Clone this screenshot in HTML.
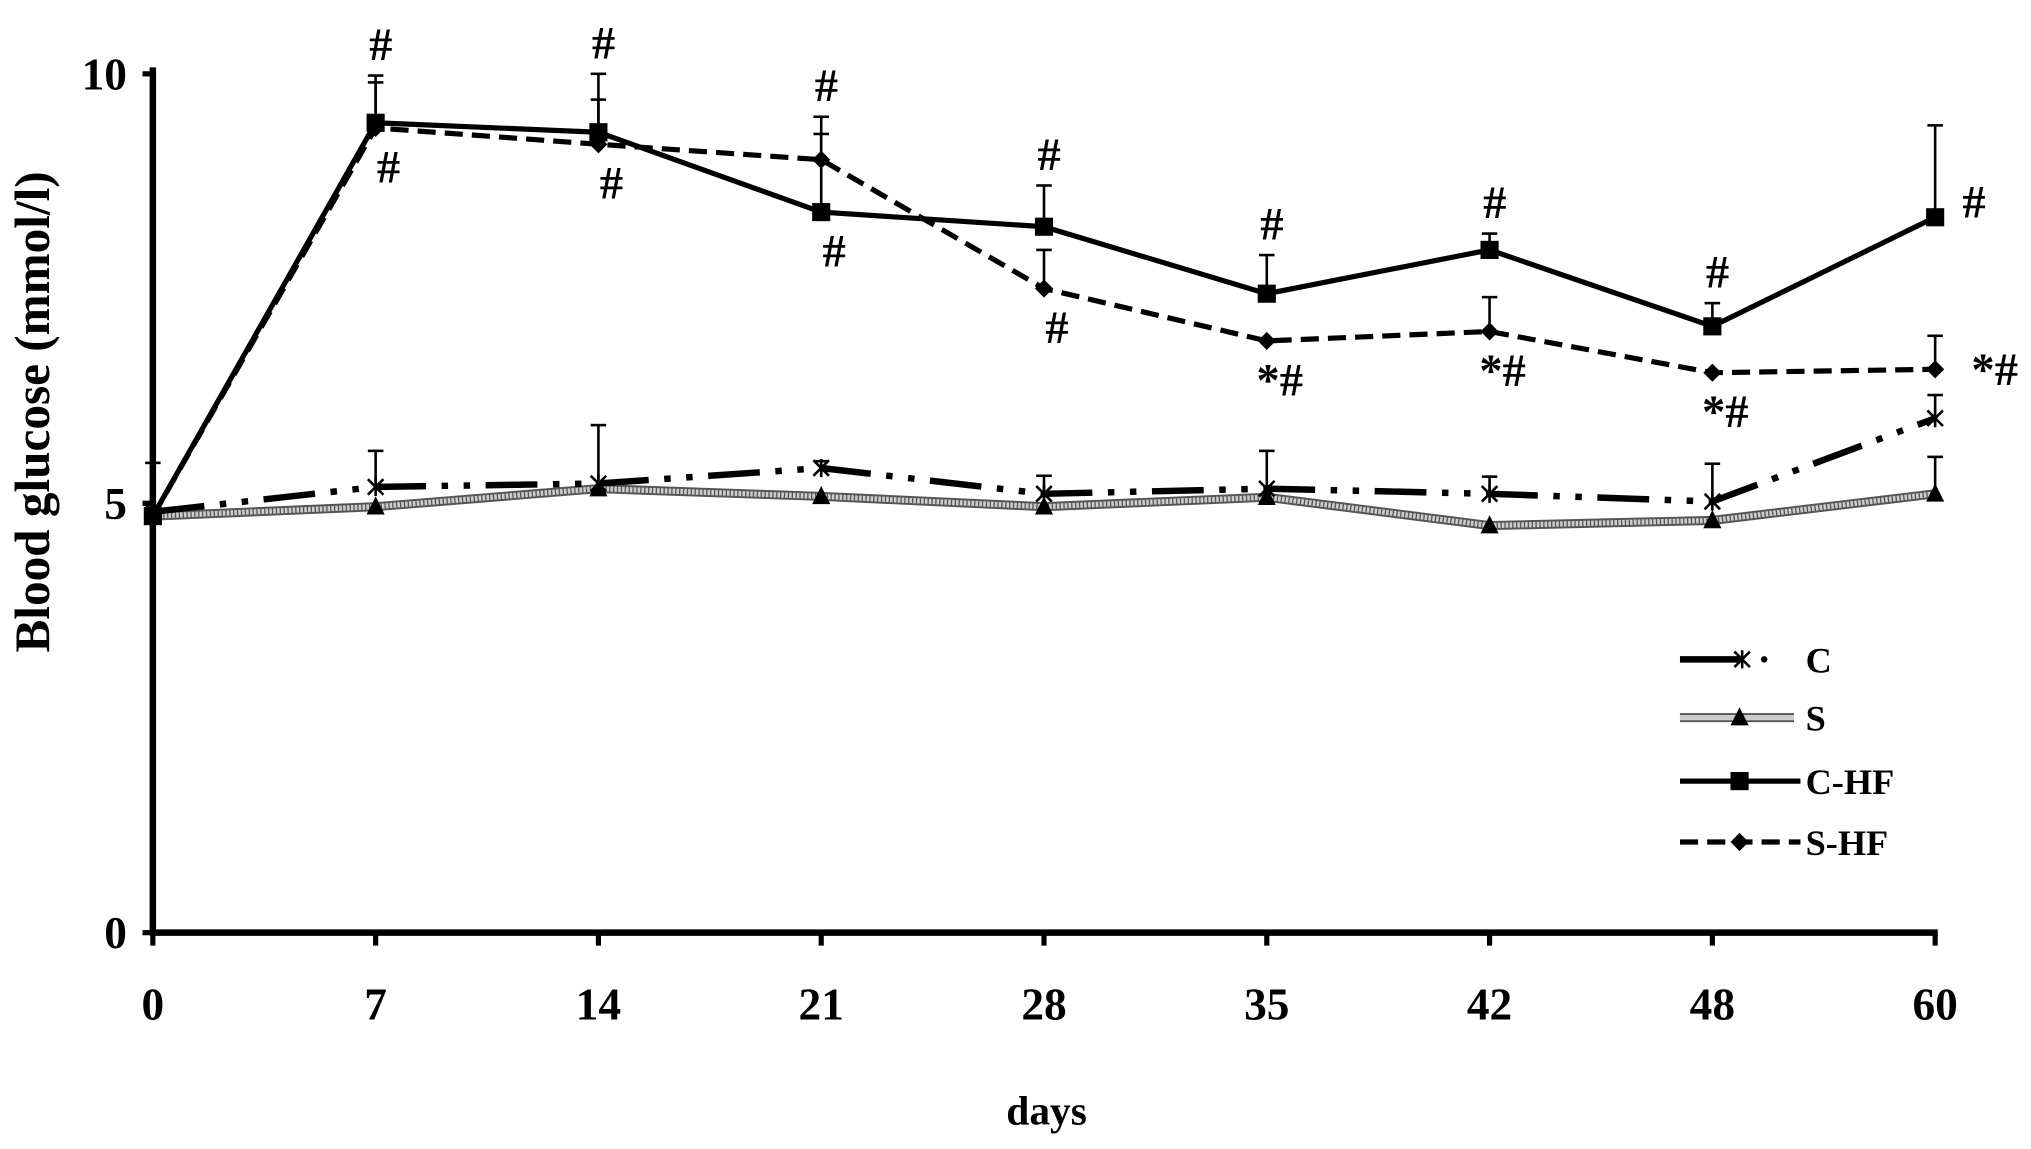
<!DOCTYPE html>
<html><head><meta charset="utf-8"><style>
html,body{margin:0;padding:0;background:#fff;}
svg{display:block;}
text{font-family:"Liberation Serif",serif;font-weight:bold;fill:#000;}
</style></head><body>
<svg id="chart" width="2031" height="1149" viewBox="0 0 1568 887" preserveAspectRatio="none">
<g id="axes"></g><g id="series"></g><g id="annot"></g><g id="legend"></g>
<text transform="translate(38,318) rotate(-90)" text-anchor="middle" font-size="38">Blood glucose (mmol/l)</text>
<text x="808" y="868" text-anchor="middle" font-size="32">days</text>
</svg>
<script>
const categories=["0","7","14","21","28","35","42","48","60"];
const yTicks=[0,5,10];
const cVals=[4.9,5.19,5.23,5.41,5.11,5.17,5.11,5.02,5.99];
const cErr=[5.47,5.61,5.91,5.49,5.32,5.61,5.31,5.46,6.26];
const sVals=[4.85,4.96,5.17,5.08,4.96,5.07,4.74,4.8,5.11];
const sErr=[null,null,null,null,null,null,null,null,5.54];
const chfVals=[4.85,9.43,9.32,8.39,8.22,7.44,7.95,7.06,8.33];
const chfErr=[null,9.98,10.0,9.3,8.7,7.89,8.14,7.33,9.4];
const shfVals=[4.85,9.37,9.18,9.0,7.5,6.89,7.0,6.52,6.56];
const shfErr=[null,9.9,9.7,9.5,7.95,null,7.4,null,6.95];
const annotAbove=["","#","#","#","#","#","#","#","#"];
const annotBelow=["","#","#","#","#","*#","*#","*#","*#"];
const NS="http://www.w3.org/2000/svg";
const X=i=>118+i*172, Y=v=>720-v*66.3;
function mk(tag,attrs,parent){const e=document.createElementNS(NS,tag);for(const k in attrs)e.setAttribute(k,attrs[k]);parent.appendChild(e);return e;}
const ax=document.getElementById('axes');
let e=mk('line',{x1:118,y1:52,x2:118,y2:722,stroke:'#000','stroke-width':5},ax);


e=mk('line',{x1:116,y1:720,x2:1496,y2:720,stroke:'#000','stroke-width':5},ax);


categories.forEach((c,i)=>{
 mk('line',{x1:X(i),y1:720,x2:X(i),y2:730,stroke:'#000','stroke-width':4},ax);
 const t=mk('text',{x:X(i),y:787,'text-anchor':'middle','font-size':35},ax);t.textContent=c;
 
 
});
yTicks.forEach(v=>{
 mk('line',{x1:110,y1:Y(v),x2:118,y2:Y(v),stroke:'#000','stroke-width':4},ax);
 const t=mk('text',{x:98,y:Y(v)+12,'text-anchor':'end','font-size':35},ax);t.textContent=v;
 
 
});
const sg=document.getElementById('series');
function pts(vals){return vals.map((v,i)=>X(i)+','+Y(v)).join(' ');}
function errs(vals,errv,name){errv.forEach((u,i)=>{if(u==null)return;
 const g=mk('g',{stroke:'#000','stroke-width':2},sg);
 
 
 mk('line',{x1:X(i),y1:Y(vals[i]),x2:X(i),y2:Y(u)},g);
 mk('line',{x1:X(i)-6,y1:Y(u),x2:X(i)+6,y2:Y(u)},g);});}
errs(cVals,cErr,'c');errs(sVals,sErr,'s');errs(chfVals,chfErr,'c-hf');errs(shfVals,shfErr,'s-hf');
e=mk('polyline',{points:pts(sVals),fill:'none',stroke:'#555','stroke-width':7},sg);


mk('polyline',{points:pts(sVals),fill:'none',stroke:'#ccc','stroke-width':4,'stroke-dasharray':'2 1'},sg);
e=mk('polyline',{points:pts(cVals),fill:'none',stroke:'#000','stroke-width':5,'stroke-dasharray':'40 12 5 12 5 12'},sg);


e=mk('polyline',{points:pts(chfVals),fill:'none',stroke:'#000','stroke-width':4},sg);


e=mk('polyline',{points:pts(shfVals),fill:'none',stroke:'#000','stroke-width':4,'stroke-dasharray':'14 7'},sg);


function marker(type,x,y,parent){
 if(type==='sq')return mk('rect',{x:x-7,y:y-7,width:14,height:14,fill:'#000'},parent);
 if(type==='di')return mk('polygon',{points:`${x},${y-7} ${x+7},${y} ${x},${y+7} ${x-7},${y}`,fill:'#000'},parent);
 if(type==='tri')return mk('polygon',{points:`${x},${y-8} ${x+7},${y+6} ${x-7},${y+6}`,fill:'#000'},parent);
 return mk('path',{d:`M${x-6} ${y-6}L${x+6} ${y+6}M${x+6} ${y-6}L${x-6} ${y+6}M${x} ${y-7}L${x} ${y+7}`,stroke:'#000','stroke-width':2},parent);
}
sVals.forEach((v,i)=>{const m=marker('tri',X(i),Y(v),sg);});
cVals.forEach((v,i)=>{const m=marker('x',X(i),Y(v),sg);});
chfVals.forEach((v,i)=>{const m=marker('sq',X(i),Y(v),sg);});
shfVals.forEach((v,i)=>{const m=marker('di',X(i),Y(v),sg);});
const an=document.getElementById('annot');
annotAbove.forEach((s,i)=>{if(!s)return;const top=Math.max(chfErr[i]||0,shfErr[i]||0,chfVals[i]);
 const t=mk('text',{x:X(i)+(i===8?30:4),y:(i===8?Y(chfVals[i]):Y(top)-12),'text-anchor':'middle','font-size':36,'font-weight':'normal'},an);t.textContent=s;
 
 });
annotBelow.forEach((s,i)=>{if(!s)return;
 const t=mk('text',{x:X(i)+(i===8?46:10),y:(i===8?Y(shfVals[i])+12:Y(Math.min(chfVals[i],shfVals[i]))+42),'text-anchor':'middle','font-size':36,'font-weight':'normal'},an);t.textContent=s;
 
 });
const lg=document.getElementById('legend');
const items=[['C','x',509],['S','tri',554],['C-HF','sq',603],['S-HF','di',650]];
items.forEach(([lab,type,y])=>{
 const g=mk('g',{},lg);
 
 
 if(type==='x'){mk('line',{x1:1297,y1:y,x2:1345,y2:y,stroke:'#000','stroke-width':5},g);mk('circle',{cx:1362,cy:y,r:2.5,fill:'#000'},g);}
 else if(type==='tri'){mk('line',{x1:1297,y1:y,x2:1385,y2:y,stroke:'#555','stroke-width':7},g);mk('line',{x1:1297,y1:y,x2:1385,y2:y,stroke:'#ccc','stroke-width':4},g);}
 else if(type==='sq'){mk('line',{x1:1297,y1:y,x2:1390,y2:y,stroke:'#000','stroke-width':4},g);}
 else{mk('line',{x1:1297,y1:y,x2:1390,y2:y,stroke:'#000','stroke-width':4,'stroke-dasharray':'14 7'},g);}
 marker(type,type==='x'?1345:1343,y,g);
 const t=mk('text',{x:1394,y:y+10,'font-size':28},g);t.textContent=lab;
});
</script>
</body></html>
